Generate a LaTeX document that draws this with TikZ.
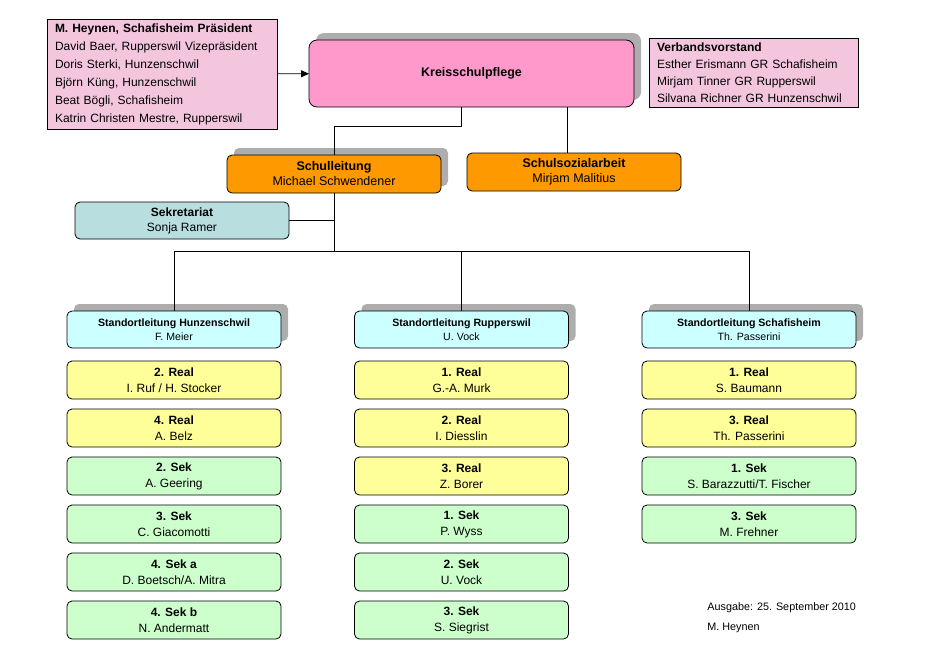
\documentclass[tikz,border=0pt]{standalone}
\usepackage{fontspec}
\setmainfont{Liberation Sans}
\usetikzlibrary{positioning,shadows,arrows.meta}

\definecolor{kspink}{HTML}{FF99CC}
\definecolor{listpink}{HTML}{F4C6DE}
\definecolor{slorange}{HTML}{FF9900}
\definecolor{sekblue}{HTML}{B8DEE0}
\definecolor{sdcyan}{HTML}{CCFFFF}
\definecolor{realyellow}{HTML}{FFFF99}
\definecolor{sekgreen}{HTML}{CCFFCC}

\begin{document}
\begin{tikzpicture}[x=1pt, y=1pt, node distance=10pt, line width=0.8pt,
  unit/.style = {draw, rounded corners=5pt, align=center, inner sep=2pt, outer sep=0pt, minimum width=214pt, minimum height=38pt},
  shadowed/.style = {drop shadow={shadow xshift=7pt, shadow yshift=7pt, fill=black!32, opacity=1}},
  pinklist/.style = {draw, fill=listpink, align=left, inner xsep=8pt, inner ysep=3pt, outer sep=0pt},
  realbox/.style = {unit, fill=realyellow, font=\fontsize{12}{16}\selectfont},
  sekbox/.style = {unit, fill=sekgreen, font=\fontsize{12}{16}\selectfont},
  sdbox/.style = {unit, shadowed, fill=sdcyan, minimum height=37pt, font=\fontsize{10.6}{14.5}\selectfont}]
\useasboundingbox (0,0) rectangle (931,-646);

% Leitung
\node[pinklist, text width=214pt, minimum height=110pt, font=\fontsize{12}{18}\selectfont] (members) at (162,-74)
  {\textbf{M. Heynen, Schafisheim Präsident}\\David Baer, Rupperswil Vizepräsident\\Doris Sterki, Hunzenschwil\\Björn Küng, Hunzenschwil\\Beat Bögli, Schafisheim\\Katrin Christen Mestre, Rupperswil};
\node[unit, shadowed, fill=kspink, minimum width=325pt, minimum height=67pt, rounded corners=8pt, font=\fontsize{12.5}{15}\selectfont\bfseries] (ksp) at (471.5,-73.5) {Kreisschulpflege};
\node[pinklist, text width=193pt, minimum height=69pt, font=\fontsize{12}{17}\selectfont] (vorstand) at (753.5,-72.5)
  {\textbf{Verbandsvorstand}\\Esther Erismann GR Schafisheim\\Mirjam Tinner GR Rupperswil\\Silvana Richner GR Hunzenschwil};
\node[unit, shadowed, fill=slorange, font=\fontsize{12.5}{15}\selectfont] (sl) at (334,-174) {\textbf{Schulleitung}\\Michael Schwendener};
\node[unit, fill=slorange, font=\fontsize{12.5}{15}\selectfont] (ssa) at (574,-172) {\textbf{Schulsozialarbeit}\\Mirjam Malitius};
\node[unit, fill=sekblue, minimum height=37pt, font=\fontsize{12}{15}\selectfont] (sek) at (182,-220.5) {\textbf{Sekretariat}\\Sonja Ramer};

% Standorte
\node[sdbox] (sh) at (174,-329.5) {\textbf{Standortleitung Hunzenschwil}\\F. Meier};
\node[sdbox] (sr) at (461.5,-329.5) {\textbf{Standortleitung Rupperswil}\\U. Vock};
\node[sdbox] (ss) at (749,-329.5) {\textbf{Standortleitung Schafisheim}\\Th. Passerini};

% Hunzenschwil
\node[realbox] (h1) [below=13pt of sh] {\textbf{2. Real}\\I. Ruf / H. Stocker};
\node[realbox] (h2) [below=of h1] {\textbf{4. Real}\\A. Belz};
\node[sekbox] (h3) [below=of h2] {\textbf{2. Sek}\\A. Geering};
\node[sekbox] (h4) [below=of h3] {\textbf{3. Sek}\\C. Giacomotti};
\node[sekbox] (h5) [below=of h4] {\textbf{4. Sek a}\\D. Boetsch/A. Mitra};
\node[sekbox] (h6) [below=of h5] {\textbf{4. Sek b}\\N. Andermatt};

% Rupperswil
\node[realbox] (r1) [below=13pt of sr] {\textbf{1. Real}\\G.-A. Murk};
\node[realbox] (r2) [below=of r1] {\textbf{2. Real}\\I. Diesslin};
\node[realbox] (r3) [below=of r2] {\textbf{3. Real}\\Z. Borer};
\node[sekbox] (r4) [below=of r3] {\textbf{1. Sek}\\P. Wyss};
\node[sekbox] (r5) [below=of r4] {\textbf{2. Sek}\\U. Vock};
\node[sekbox] (r6) [below=of r5] {\textbf{3. Sek}\\S. Siegrist};

% Schafisheim
\node[realbox] (s1) [below=13pt of ss] {\textbf{1. Real}\\S. Baumann};
\node[realbox] (s2) [below=of s1] {\textbf{3. Real}\\Th. Passerini};
\node[sekbox] (s3) [below=of s2] {\textbf{1. Sek}\\S. Barazzutti/T. Fischer};
\node[sekbox] (s4) [below=of s3] {\textbf{3. Sek}\\M. Frehner};

\node[anchor=north west, align=left, inner sep=0pt, font=\fontsize{10.8}{20}\selectfont] (ausgabe) at (707,-602)
  {Ausgabe: 25. September 2010\\M. Heynen};

% Verbindungen
\coordinate (bar) at (334,-251);
\draw[-{Triangle[length=8pt,width=7pt]}] (members) -- (ksp);
\draw ([xshift=-10.5pt]ksp.south) -- ++(0,-19) -| (sl);
\draw ([xshift=-7pt]ssa.north) -- ++(0,46);
\draw (sl) -- (bar);
\draw (sek) -- (sek -| bar);
\draw (bar) -| (sh);
\draw (bar) -| (sr);
\draw (bar) -| (ss);
\end{tikzpicture}
\end{document}
